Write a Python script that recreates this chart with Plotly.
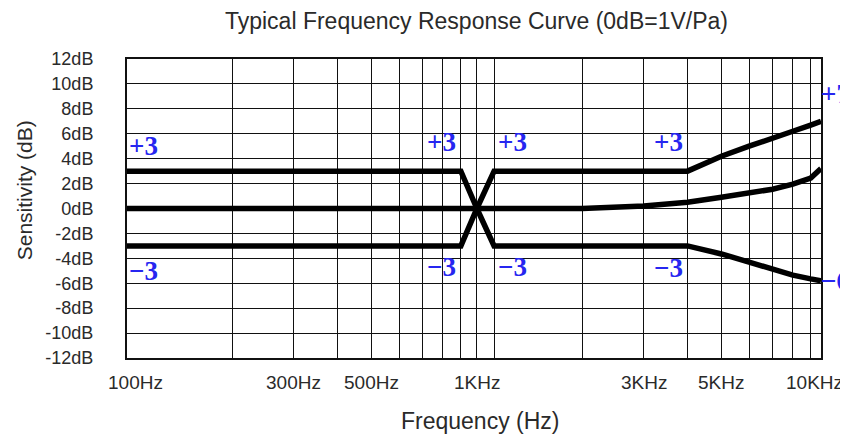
import numpy as np
import plotly.graph_objects as go

# ---------------- data ----------------
freq_upper = [100, 900, 1000, 1120, 4000, 5000, 6000, 7000, 8000, 9000, 9630]
db_upper = [3, 3, 0, 3, 3, 4.2, 5.0, 5.7, 6.2, 6.7, 7.0]

freq_mid = [100, 2000, 3000, 4000, 5000, 6000, 7000, 8000, 9000, 9630]
db_mid = [0, 0, 0.2, 0.5, 0.9, 1.2, 1.55, 1.95, 2.45, 3.2]

freq_lower = [100, 900, 1000, 1120, 4000, 5000, 6000, 7000, 8000, 9000, 9630]
db_lower = [-3, -3, 0, -3, -3, -3.65, -4.3, -4.9, -5.35, -5.65, -5.8]

x_min, x_max = 100, 9630
grid_freqs = [200, 300, 400, 500, 600, 700, 800, 900, 1000, 1120,
              2000, 3000, 4000, 5000, 6000, 7000, 8000, 9000]

x_tick_vals = [100, 300, 500, 1000, 3000, 5000, 9630]
x_tick_text = ["100Hz", "300Hz", "500Hz", "1KHz", "3KHz", "5KHz", "10KHz"]

y_tick_vals = list(range(-12, 13, 2))
y_tick_text = [f"{v}dB" for v in y_tick_vals]

tol_text = ["+3", "\u22123", "+3", "\u22123", "+3", "\u22123", "+3", "\u22123", "+7", "\u22126"]
tol_freq = [100, 100, 900, 900, 1120, 1120, 4000, 4000, 9630, 9630]
tol_db = [5.0, -5.0, 5.3, -4.7, 5.3, -4.7, 5.3, -4.8, 9.2, -5.8]

# ---------------- figure ----------------
fig = go.Figure()
for fx, fy in [(freq_upper, db_upper), (freq_mid, db_mid), (freq_lower, db_lower)]:
    fig.add_trace(go.Scatter(x=fx, y=fy, mode="lines",
                             line=dict(color="black", width=5.5),
                             showlegend=False, hoverinfo="skip"))

ann = []
# x tick labels
x_shift = {"100Hz": 8, "10KHz": -7}
for v, t in zip(x_tick_vals, x_tick_text):
    ann.append(dict(x=np.log10(v), y=-0.0825, xref="x", yref="paper",
                    text=t, showarrow=False, xanchor="center", yanchor="middle",
                    xshift=x_shift.get(t, 0),
                    font=dict(family="Liberation Sans", size=19, color="#2a2a2a")))
# tolerance labels
for t, f, d in zip(tol_text, tol_freq, tol_db):
    if f == 100:
        xa, xs = "left", 0
    elif f == 1120:
        xa, xs = "left", 2
    elif f == 9630:
        xa, xs = "left", -2
    else:
        xa, xs = "right", -3
    ann.append(dict(x=np.log10(f), y=d, xref="x", yref="y", text=t,
                    showarrow=False, xanchor=xa, yanchor="middle", xshift=xs,
                    font=dict(family="Liberation Serif", size=27, color="#2626f0",
                              weight="bold")))
# axis titles
ann.append(dict(x=-0.1465, y=0.562, xref="paper", yref="paper",
                text="Sensitivity (dB)", textangle=-90, showarrow=False,
                xanchor="center", yanchor="middle",
                font=dict(family="Liberation Sans", size=21, color="#2a2a2a")))
ann.append(dict(x=0.509, y=-0.2095, xref="paper", yref="paper",
                text="Frequency (Hz)", showarrow=False,
                xanchor="center", yanchor="middle",
                font=dict(family="Liberation Sans", size=23, color="#2a2a2a")))

fig.update_layout(
    width=840, height=430,
    margin=dict(l=119, r=27, t=51, b=80),
    paper_bgcolor="white", plot_bgcolor="white",
    title=dict(text="Typical Frequency Response Curve (0dB=1V/Pa)",
               x=0.5577, xanchor="center", y=0.970, yanchor="middle",
               font=dict(family="Liberation Sans", size=23, color="#2a2a2a")),
    annotations=ann,
    xaxis=dict(type="log", range=[np.log10(x_min), np.log10(x_max)],
               showticklabels=False, ticks="", showgrid=False,
               tickvals=x_tick_vals,
               minor=dict(tickvals=grid_freqs, showgrid=True, ticks="",
                          gridcolor="#111111", gridwidth=1.3),
               showline=True, mirror=True, linecolor="#111111", linewidth=2,
               zeroline=False),
    yaxis=dict(range=[-12, 12], tickvals=y_tick_vals, ticktext=y_tick_text,
               ticks="", ticklabelstandoff=28,
               tickfont=dict(family="Liberation Sans", size=18, color="#2a2a2a"),
               showgrid=True, gridcolor="#111111", gridwidth=1.3,
               showline=True, mirror=True, linecolor="#111111", linewidth=2,
               zeroline=False),
)

fig.write_html("out.html")
